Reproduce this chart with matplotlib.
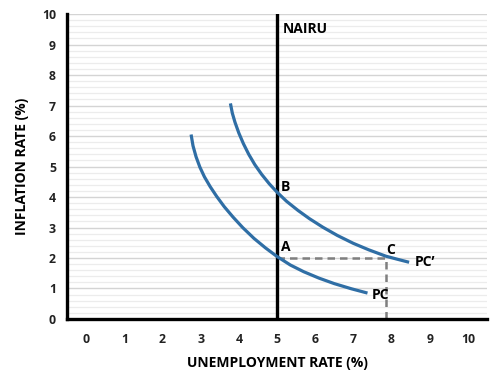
import matplotlib.pyplot as plt
from matplotlib.ticker import MultipleLocator

plt.rcParams['font.family'] = ['Open Sans', 'DejaVu Sans']

# curve PC (short-run Phillips curve)
pc_x = [2.75, 2.80, 2.88, 2.98, 3.10, 3.25, 3.42, 3.62, 3.85, 4.10,
        4.40, 4.70, 5.00, 5.35, 5.70, 6.10, 6.50, 6.95, 7.37]
pc_y = [6.05, 5.68, 5.32, 4.98, 4.66, 4.34, 4.02, 3.68, 3.34, 3.00,
        2.64, 2.33, 2.05, 1.77, 1.55, 1.34, 1.16, 0.99, 0.85]

# curve PC' (shifted Phillips curve)
pcp_x = [3.78, 3.83, 3.90, 4.00, 4.12, 4.26, 4.42, 4.60, 4.80, 5.00,
         5.25, 5.55, 5.85, 6.20, 6.58, 7.00, 7.40, 7.85, 8.15, 8.46]
pcp_y = [7.07, 6.75, 6.45, 6.10, 5.75, 5.40, 5.06, 4.74, 4.43, 4.16,
         3.86, 3.56, 3.29, 3.01, 2.74, 2.48, 2.27, 2.06, 1.96, 1.86]

nairu = 5
point_c_x = 7.85
point_c_y = 2.0

x_ticks = list(range(0, 11))
y_ticks = list(range(0, 11))

blue = '#2f6ea5'

fig = plt.figure(figsize=(5, 3.86), dpi=100)
ax = fig.add_axes([0.134, 0.1736, 0.84, 0.79])

ax.set_xlim(-0.5, 10.5)
ax.set_ylim(0, 10)

# gridlines
ax.yaxis.set_major_locator(MultipleLocator(1))
ax.yaxis.set_minor_locator(MultipleLocator(0.2))
ax.grid(True, which='major', axis='y', color='#d4d4d4', lw=1.0, zorder=0)
ax.grid(True, which='minor', axis='y', color='#ececec', lw=0.9, zorder=0)
ax.set_xticks(x_ticks)
ax.tick_params(axis='both', which='both', length=0)
ax.tick_params(axis='x', pad=10)
ax.tick_params(axis='y', pad=8)
ax.set_xticklabels([str(v) for v in x_ticks], fontsize=8.8, fontweight='bold', color='#222222')
ax.set_yticks(y_ticks)
ax.set_yticklabels([str(v) for v in y_ticks], fontsize=8.8, fontweight='bold', color='#222222')

for s in ['top', 'right']:
    ax.spines[s].set_visible(False)
for s in ['left', 'bottom']:
    ax.spines[s].set_linewidth(2.4)
    ax.spines[s].set_color('black')

# NAIRU vertical line
ax.plot([nairu, nairu], [0, 10], color='black', lw=2.4, zorder=3)

# dashed guide lines to point C
ax.plot([nairu, point_c_x, point_c_x], [point_c_y, point_c_y, 0],
        color='#7f7f7f', lw=1.8, ls=(0, (3, 2)), zorder=2)

# curves
ax.plot(pc_x, pc_y, color=blue, lw=2.3, solid_capstyle='butt',
        solid_joinstyle='round', zorder=4)
ax.plot(pcp_x, pcp_y, color=blue, lw=2.3, solid_capstyle='butt',
        solid_joinstyle='round', zorder=4)

lab = dict(fontsize=10, fontweight='bold', color='black', zorder=5)
ax.text(5.15, 9.5, 'NAIRU', ha='left', va='center', **lab)
ax.text(5.1, 4.34, 'B', ha='left', va='center', **lab)
ax.text(5.1, 2.37, 'A', ha='left', va='center', **lab)
ax.text(7.98, 2.27, 'C', ha='center', va='center', **lab)
ax.text(8.6, 1.87, 'PC\u2019', ha='left', va='center', **lab)
ax.text(7.48, 0.79, 'PC', ha='left', va='center', **lab)

ax.set_xlabel('UNEMPLOYMENT RATE (%)', fontsize=10, fontweight='bold', labelpad=7)
ax.set_ylabel('INFLATION RATE (%)', fontsize=10, fontweight='bold', labelpad=9)

fig.savefig('out.png', dpi=100)
